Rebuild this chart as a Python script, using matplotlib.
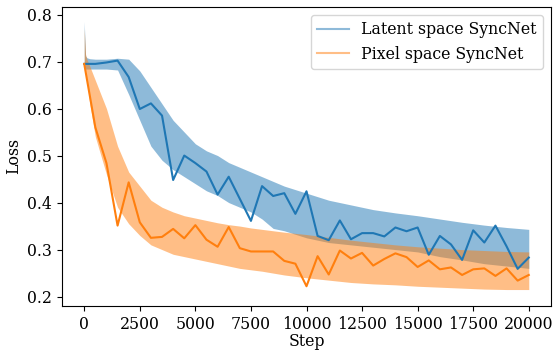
import matplotlib
matplotlib.use("Agg")
import matplotlib.pyplot as plt
from matplotlib.lines import Line2D

plt.rcParams['font.family'] = ['DejaVu Serif']

# validation-style curves, every 500 steps
val_steps = list(range(0, 20001, 500))
latent_val = [0.695, 0.695, 0.698, 0.702, 0.667, 0.599, 0.611, 0.585, 0.448, 0.500,
              0.484, 0.466, 0.417, 0.455, 0.408, 0.361, 0.435, 0.414, 0.420, 0.376,
              0.424, 0.329, 0.320, 0.362, 0.322, 0.335, 0.335, 0.328, 0.347, 0.339,
              0.347, 0.289, 0.329, 0.311, 0.278, 0.341, 0.315, 0.351, 0.307, 0.259,
              0.283]
pixel_val = [0.695, 0.560, 0.484, 0.351, 0.443, 0.358, 0.325, 0.327, 0.344, 0.324,
             0.352, 0.321, 0.306, 0.348, 0.303, 0.296, 0.296, 0.296, 0.276, 0.270,
             0.222, 0.286, 0.247, 0.298, 0.281, 0.293, 0.266, 0.280, 0.292, 0.284,
             0.263, 0.277, 0.258, 0.262, 0.246, 0.258, 0.260, 0.244, 0.260, 0.234,
             0.246]

# training-loss spread (upper / lower envelope)
band_steps = [0, 60, 120, 250, 500, 1000, 1500, 2000, 2500, 3000, 3500, 4000, 4500,
              5000, 5500, 6000, 6500, 7000, 7500, 8000, 8500, 9000, 10000, 11000,
              12000, 13000, 14000, 15000, 16000, 17000, 18000, 19000, 20000]
latent_hi = [0.785, 0.712, 0.708, 0.706, 0.705, 0.705, 0.707, 0.705, 0.68, 0.645, 0.61,
             0.575, 0.55, 0.525, 0.51, 0.50, 0.485, 0.475, 0.465, 0.455, 0.445,
             0.435, 0.42, 0.405, 0.395, 0.385, 0.378, 0.372, 0.365, 0.358, 0.352,
             0.347, 0.343]
latent_lo = [0.685, 0.684, 0.684, 0.684, 0.684, 0.684, 0.682, 0.63, 0.575, 0.52, 0.49,
             0.47, 0.455, 0.44, 0.425, 0.415, 0.40, 0.39, 0.38, 0.365, 0.345, 0.34,
             0.325, 0.315, 0.31, 0.305, 0.30, 0.295, 0.285, 0.278, 0.27, 0.265, 0.26]
pixel_hi = [0.77, 0.715, 0.705, 0.69, 0.66, 0.60, 0.52, 0.465, 0.435, 0.405, 0.39,
            0.38, 0.372, 0.367, 0.362, 0.357, 0.353, 0.35, 0.346, 0.343, 0.34, 0.337,
            0.332, 0.326, 0.32, 0.315, 0.31, 0.306, 0.303, 0.30, 0.298, 0.296, 0.295]
pixel_lo = [0.685, 0.68, 0.66, 0.61, 0.54, 0.46, 0.39, 0.355, 0.33, 0.31, 0.30,
            0.29, 0.285, 0.28, 0.275, 0.27, 0.265, 0.26, 0.257, 0.254, 0.25, 0.246,
            0.24, 0.235, 0.23, 0.227, 0.225, 0.222, 0.22, 0.218, 0.216, 0.215, 0.215]

labels = ["Latent space SyncNet", "Pixel space SyncNet"]
c_blue, c_orange = "#1f77b4", "#ff7f0e"
FS = 11.3

fig = plt.figure(figsize=(5.53, 3.51), dpi=100)
ax = fig.add_axes([62/553, 45/351, 489/553, 299/351])

ax.fill_between(band_steps, latent_lo, latent_hi, color=c_blue, alpha=0.5, lw=0)
ax.fill_between(band_steps, pixel_lo, pixel_hi, color=c_orange, alpha=0.5, lw=0)
ax.plot(val_steps, latent_val, color=c_blue, lw=1.5)
ax.plot(val_steps, pixel_val, color=c_orange, lw=1.5)

ax.set_xlim(-1000, 21000)
ax.set_ylim(0.180, 0.816)
ax.set_xticks(range(0, 20001, 2500))
ax.set_yticks([0.2, 0.3, 0.4, 0.5, 0.6, 0.7, 0.8])
ax.tick_params(labelsize=FS)
ax.set_xlabel("Step", fontsize=FS, labelpad=0)
ax.set_ylabel("Loss", fontsize=FS, labelpad=3.5)

handles = [Line2D([], [], color=c_blue, alpha=0.5, lw=1.5),
           Line2D([], [], color=c_orange, alpha=0.5, lw=1.5)]
ax.legend(handles, labels, loc="upper right", fontsize=FS)

fig.savefig("out.png", dpi=100)
